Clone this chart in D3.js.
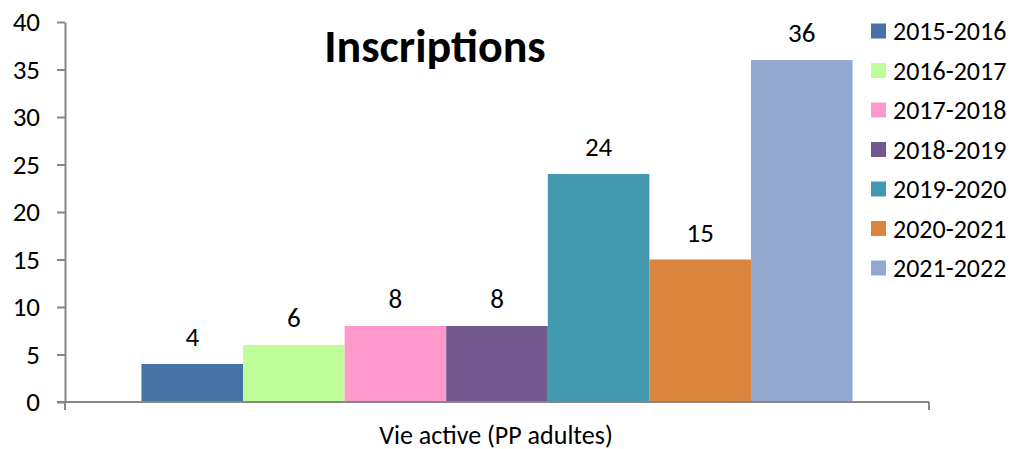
<!DOCTYPE html>
<html>
<head>
<meta charset="utf-8">
<script src="https://cdn.jsdelivr.net/npm/d3@7"></script>
<style>
  body { margin: 0; background: #fff; }
  text { font-family: Calibri, Carlito, "Open Sans", sans-serif; fill: #000; }
</style>
</head>
<body>
<div id="chart"></div>
<script>
// data
var category = "Vie active (PP adultes)";
var seasons = ["2015-2016", "2016-2017", "2017-2018", "2018-2019", "2019-2020", "2020-2021", "2021-2022"];
var values = [4, 6, 8, 8, 24, 15, 36];
var colors = ["#4572A7", "#BEFF99", "#FF99CC", "#71588F", "#4198AF", "#DB843D", "#93A9CF"];
var yTicks = [0, 5, 10, 15, 20, 25, 30, 35, 40];

var W = 1011, H = 449;
var margin = { top: 22, right: 82, bottom: 47, left: 65 };
var width = W - margin.left - margin.right;
var height = H - margin.top - margin.bottom;

var svg = d3.select("#chart").append("svg")
    .attr("width", W)
    .attr("height", H);

var g = svg.append("g")
    .attr("transform", "translate(" + margin.left + "," + margin.top + ")");

// scales
var y = d3.scaleLinear().domain([0, 40]).range([height, 0]);
var x0 = d3.scaleBand().domain([category]).range([0, width]).paddingInner(0).paddingOuter(0.1075);
var x1 = d3.scaleBand().domain(seasons).range([0, x0.bandwidth()]);

// y axis
var yAxis = g.append("g")
    .call(d3.axisLeft(y).tickValues(yTicks).tickSize(8).tickPadding(10).tickSizeOuter(0));
yAxis.select(".domain").attr("stroke", "#868686").attr("stroke-width", 2);
yAxis.selectAll(".tick line").attr("stroke", "#868686").attr("stroke-width", 2);
yAxis.selectAll(".tick text").style("font-size", "27px").attr("dx", "-7");

// bars
var bars = g.append("g")
    .attr("transform", "translate(" + x0(category) + ",0)");

bars.selectAll("rect")
  .data(values)
  .enter()
  .append("rect")
    .attr("x", function(d, i) { return x1(seasons[i]); })
    .attr("y", function(d) { return y(d); })
    .attr("width", x1.bandwidth())
    .attr("height", function(d) { return height - y(d); })
    .attr("fill", function(d, i) { return colors[i]; });

bars.selectAll("text.val")
  .data(values)
  .enter()
  .append("text")
    .attr("class", "val")
    .attr("x", function(d, i) { return x1(seasons[i]) + x1.bandwidth() / 2; })
    .attr("y", function(d) { return y(d) - 18; })
    .attr("text-anchor", "middle")
    .style("font-size", "27px")
    .text(function(d) { return d; });

// x axis
var xAxis = g.append("g")
    .attr("transform", "translate(0," + height + ")");
xAxis.append("line")
    .attr("x1", -8).attr("x2", width)
    .attr("stroke", "#868686").attr("stroke-width", 2);
[0, width].forEach(function(px) {
  xAxis.append("line")
    .attr("x1", px).attr("x2", px).attr("y1", 0).attr("y2", 8)
    .attr("stroke", "#868686").attr("stroke-width", 2);
});
xAxis.append("text")
    .attr("x", 496 - margin.left)
    .attr("y", 42)
    .attr("text-anchor", "middle")
    .style("font-size", "26px")
    .text(category);

// title
svg.append("text")
    .attr("x", 435)
    .attr("y", 62)
    .attr("text-anchor", "middle")
    .style("font-size", "46px")
    .style("font-weight", "bold")
    .text("Inscriptions");

// legend
var legend = svg.append("g").attr("transform", "translate(871,0)");
var item = legend.selectAll("g")
  .data(seasons)
  .enter()
  .append("g")
    .attr("transform", function(d, i) { return "translate(0," + (31 + i * 39.5) + ")"; });
item.append("rect")
    .attr("x", 0).attr("y", -7.5)
    .attr("width", 15).attr("height", 15)
    .attr("fill", function(d, i) { return colors[i]; });
item.append("text")
    .attr("x", 22)
    .attr("y", 9)
    .style("font-size", "26px")
    .text(function(d) { return d; });
</script>
</body>
</html>
